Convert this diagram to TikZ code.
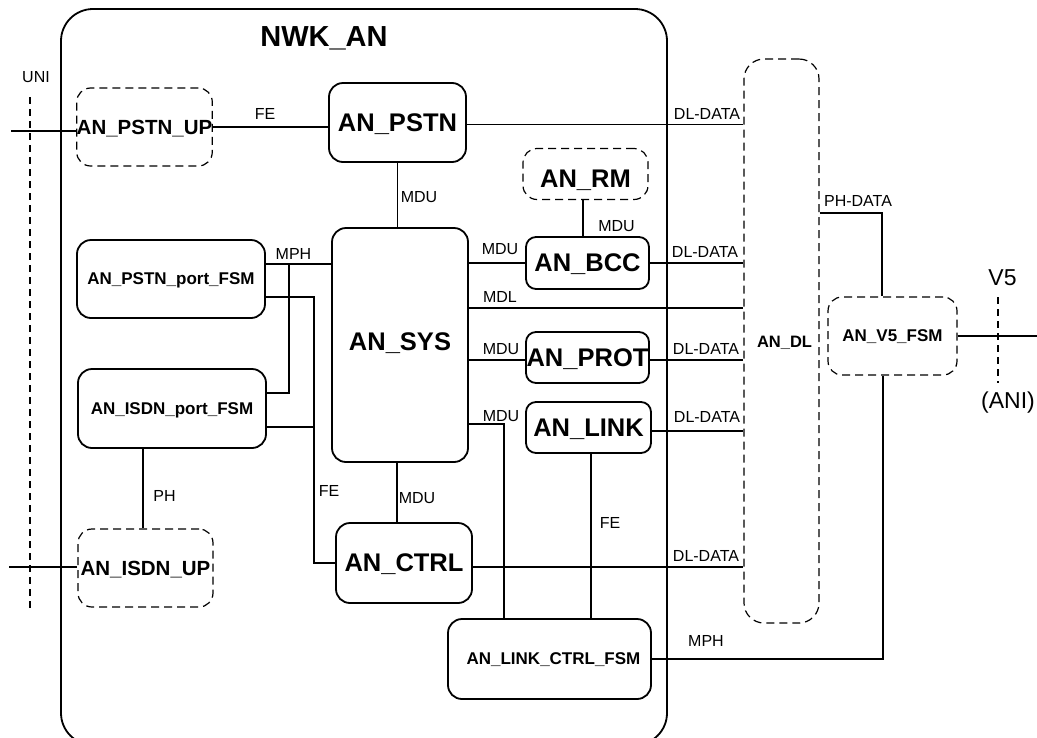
\documentclass[tikz,border=0pt]{standalone}
\usepackage{fontspec}
\setmainfont{Liberation Sans}
\begin{document}
\begin{tikzpicture}[x=1pt,y=-1pt,
  box/.style={draw, line width=1.8pt, rounded corners=14pt, inner sep=0pt, text depth=0pt,
    font=\bfseries\fontsize{25.5}{26}\selectfont},
  sbox/.style={box, font=\bfseries\fontsize{17}{18}\selectfont},
  dbox/.style={box, line width=1.2pt, dash pattern=on 8pt off 5pt},
  lbl/.style={inner sep=0pt, font=\fontsize{16}{16}\selectfont},
  big/.style={inner sep=0pt, font=\fontsize{23}{23}\selectfont},
  wire/.style={line width=1.6pt},
  dline/.style={line width=1.2pt, dash pattern=on 7pt off 5pt}]
\useasboundingbox (0,0) rectangle (1037,737);
% outer box
\node[draw, line width=1.8pt, rounded corners=32pt, minimum width=606pt, minimum height=736pt] (nwk) at (364,377) {};
\node[inner sep=0pt, font=\bfseries\fontsize{29}{29}\selectfont] (nwktitle) at (324,38.5) {NWK\_AN};
% dashed boxes
\node[dbox, font=\bfseries\fontsize{20.5}{21}\selectfont, minimum width=135pt, minimum height=78pt] (pstnup) at (144.5,127) {AN\_PSTN\_UP};
\node[dbox, font=\bfseries\fontsize{20.5}{21}\selectfont, minimum width=135pt, minimum height=78pt] (isdnup) at (145.5,568) {AN\_ISDN\_UP};
\node[dbox, text height=26.3pt, minimum width=125pt, minimum height=51pt] (rm) at (585.5,174) {AN\_RM};
\node[dbox, rounded corners=20pt, minimum width=75pt, minimum height=564pt] (dl) at (781.5,341) {};
\node[inner sep=0pt, font=\bfseries\fontsize{16.5}{17}\selectfont] (dltext) at (784.5,342.5) {AN\_DL};
\node[dbox, font=\bfseries\fontsize{17}{18}\selectfont, minimum width=129pt, minimum height=78pt] (v5fsm) at (892.5,336) {AN\_V5\_FSM};
% solid boxes
\node[box, minimum width=137pt, minimum height=79pt] (pstn) at (397.5,122.5) {AN\_PSTN};
\node[box, text depth=6pt, minimum width=136pt, minimum height=234pt] (sys) at (400,345) {AN\_SYS};
\node[box, rounded corners=10pt, minimum width=123pt, minimum height=52pt] (bcc) at (587.5,263) {AN\_BCC};
\node[box, rounded corners=10pt, minimum width=123pt, minimum height=51pt] (prot) at (587.5,357.5) {AN\_PROT};
\node[box, rounded corners=10pt, minimum width=125pt, minimum height=51pt] (link) at (588.5,427.5) {AN\_LINK};
\node[box, minimum width=136pt, minimum height=80pt] (ctrl) at (404,563) {AN\_CTRL};
\node[sbox, minimum width=203pt, minimum height=80pt] (lcf) at (549.5,659) {\hspace*{8pt}AN\_LINK\_CTRL\_FSM};
\node[sbox, minimum width=188pt, minimum height=78pt] (pport) at (171,279) {AN\_PSTN\_port\_FSM};
\node[sbox, minimum width=188pt, minimum height=79pt] (iport) at (172,408.5) {AN\_ISDN\_port\_FSM};
% interface coordinates
\coordinate (uniTop) at (30,97);
\coordinate (uniBot) at (30,610);
\coordinate (uniA) at (11,131);
\coordinate (uniB) at (9,567);
\coordinate (v5Top) at (998,297);
\coordinate (v5Bot) at (998,383);
\coordinate (v5end) at (1037,336);
% dashed interface lines
\draw[dline] (uniTop) -- (uniBot);
\draw[dline] (v5Top) -- (v5Bot);
% connectors
\draw[wire] (uniA) -- (uniA -| pstnup.west);
\draw[wire] (uniB) -- (uniB -| isdnup.west);
\draw[wire] (pstnup.east) -- (pstnup.east -| pstn.west);
\draw[wire] ([yshift=-2pt]pstn.east) coordinate (c1) -- (c1 -| dl.west);
\draw[wire] (pstn.south) -- (pstn.south |- sys.north);
\draw[wire] ([xshift=-2.5pt]rm.south) coordinate (c2) -- (c2 |- bcc.north);
\draw[wire] (sys.east |- bcc.west) -- (bcc.west);
\draw[wire] (bcc.east) -- (bcc.east -| dl.west);
\draw[wire] ([yshift=37pt]sys.east) coordinate (c3) -- (c3 -| dl.west);
\draw[wire] ([yshift=-2.5pt]sys.east |- prot.west) -- ([yshift=-2.5pt]prot.west);
\draw[wire] ([yshift=-2.5pt]prot.east) coordinate (c4) -- (c4 -| dl.west);
\draw[wire] ([yshift=-3.5pt]link.east) coordinate (c5) -- (c5 -| dl.west);
\draw[wire] ([yshift=-79pt]sys.east) -| ([xshift=-45.5pt]lcf.north);
\draw[wire] ([xshift=2.5pt]link.south) coordinate (c6) -- (c6 |- lcf.north);
\draw[wire] ([xshift=-3pt]sys.south) coordinate (c7) -- (c7 |- ctrl.north);
\draw[wire] ([yshift=-4pt]ctrl.east) coordinate (c8) -- (c8 -| dl.west);
\draw[wire] ([yshift=15pt]pport.east) coordinate (p1) -- (p1 -| sys.west);
\coordinate (fe) at ([xshift=-21pt]ctrl.west);
\draw[wire] ([yshift=-18pt]pport.east) -| (fe) -- (ctrl.west);
\draw[wire] ([yshift=-18.5pt]iport.east) coordinate (i2) -- (i2 -| fe);
\coordinate (mphj) at ([xshift=23pt]p1);
\draw[wire] ([yshift=15.5pt]iport.east) -| (mphj);
\draw[wire] ([xshift=-29pt]iport.south) coordinate (c9) -- (c9 |- isdnup.north);
\draw[wire] (lcf.east) -| ([xshift=-9.5pt]v5fsm.south);
\draw[wire] ([yshift=128pt]dl.east) -| ([xshift=-10.5pt]v5fsm.north);
\draw[wire] (v5fsm.east) -- (v5end);
% labels
\node[lbl] (lUNI) at (36,77.5) {UNI};
\node[lbl] (lFE1) at (265,113.5) {FE};
\node[lbl] (lDL1) at (707,114) {DL-DATA};
\node[lbl] (lMDU1) at (419,197.5) {MDU};
\node[lbl] (lMDU2) at (616.5,226) {MDU};
\node[lbl] (lPHD) at (858,201) {PH-DATA};
\node[lbl] (lMPH1) at (293.5,254) {MPH};
\node[lbl] (lMDU3) at (500,249) {MDU};
\node[lbl] (lDL2) at (705,251.5) {DL-DATA};
\node[lbl] (lMDL) at (500,296.5) {MDL};
\node[lbl] (lMDU4) at (501,349) {MDU};
\node[lbl] (lDL3) at (706,348.5) {DL-DATA};
\node[lbl] (lMDU5) at (501,416) {MDU};
\node[lbl] (lDL4) at (707,416.5) {DL-DATA};
\node[lbl] (lFE2) at (329,491) {FE};
\node[lbl] (lMDU6) at (417,498.5) {MDU};
\node[lbl] (lFE3) at (610,523) {FE};
\node[lbl] (lPH) at (164.5,495.5) {PH};
\node[lbl] (lDL5) at (706,556) {DL-DATA};
\node[lbl] (lMPH2) at (706,641) {MPH};
\node[big] (lV5) at (1002.5,277.5) {V5};
\node[big] (lANI) at (1008,403) {(ANI)};
\end{tikzpicture}
\end{document}
